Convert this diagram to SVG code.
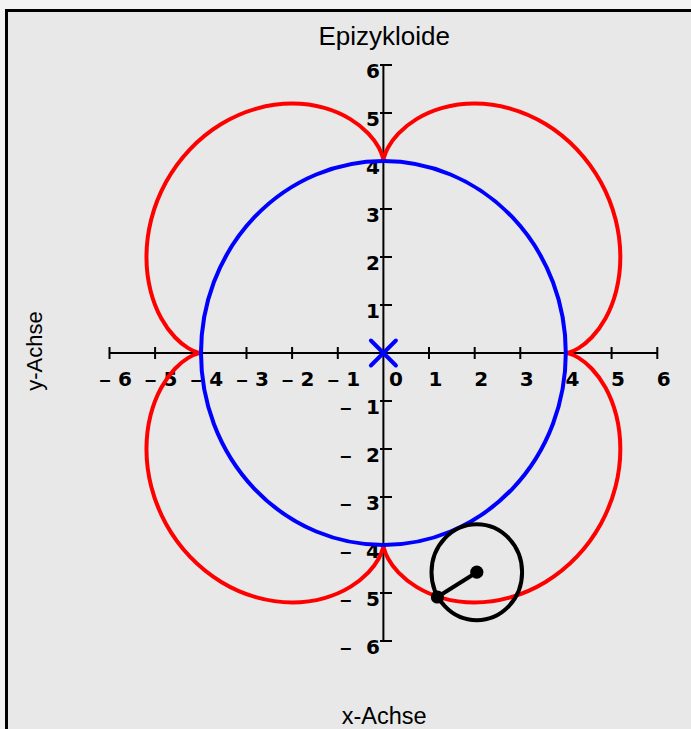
<svg xmlns="http://www.w3.org/2000/svg" xmlns:xlink="http://www.w3.org/1999/xlink" width="691" height="729" viewBox="0 0 691 729">
<style>
.axis{stroke:#000;stroke-width:2;fill:none}
.tl{font-family:"DejaVu Sans",sans-serif;font-weight:bold;font-size:20px;fill:#000}
.dash{font-family:"Liberation Sans",Arial,sans-serif;font-weight:bold;font-size:20px}
.ttl{font-family:"Liberation Sans",Arial,sans-serif;fill:#000}
.red{stroke:#ff0000;stroke-width:4;fill:none;stroke-linecap:round;stroke-linejoin:round}
.blue{stroke:#0000ff;stroke-width:4;fill:none}
.blk{stroke:#000;stroke-width:4;fill:none}
</style>
<defs>
<path id="lobe" d="M182.4,0 C182.4,0 183.58,0 185.8,-0.63 C188.03,-1.26 191.3,-2.52 195.23,-4.91 C199.16,-7.3 203.74,-10.81 208.43,-15.75 C213.12,-20.69 217.91,-27.04 222.17,-34.81 C226.43,-42.58 230.16,-51.78 232.79,-62.11 C235.42,-72.44 236.94,-83.91 236.94,-96 C236.94,-108.09 235.42,-120.8 232.19,-133.47 C228.96,-146.14 224.04,-158.78 217.51,-170.69 C210.98,-182.6 202.84,-193.78 193.46,-203.65 C184.08,-213.52 173.46,-222.09 162.15,-228.96 C150.84,-235.84 138.84,-241.01 126.8,-244.41 C114.76,-247.81 102.69,-249.42 91.2,-249.42 C79.71,-249.42 68.82,-247.82 59,-245.05 C49.19,-242.28 40.45,-238.35 33.07,-233.86 C25.69,-229.37 19.65,-224.34 14.96,-219.4 C10.27,-214.46 6.93,-209.64 4.66,-205.5 C2.39,-201.36 1.2,-197.92 0.6,-195.58 C0,-193.24 0,-192 0,-192"/>
</defs>
<rect x="0" y="0" width="691" height="729" fill="#f3f3f3"/>
<rect id="frame" x="6.5" y="10.5" width="720" height="740" fill="#e8e8e8" stroke="#000" stroke-width="3"/>
<text id="title" class="ttl" x="384.2" y="45" font-size="26" text-anchor="middle">Epizykloide</text>
<text id="xlabel" class="ttl" x="384.2" y="724.3" font-size="23.5" text-anchor="middle">x-Achse</text>
<text id="ylabel" class="ttl" font-size="22" text-anchor="middle" transform="translate(42,351) rotate(-90)">y-Achse</text>
<g id="axes">
<path class="axis" d="M109.5,353H657.3M383.4,65V641"/>
<path class="axis" d="M109.5,347V359M155.1,347V359M200.8,347V359M246.5,347V359M292.1,347V359M337.8,347V359M429,347V359M474.7,347V359M520.3,347V359M566,347V359M611.6,347V359M657.3,347V359"/>
<path class="axis" d="M380,65H392M380,113H392M380,161H392M380,209H392M380,257H392M380,305H392M380,401H392M380,449H392M380,497H392M380,545H392M380,593H392M380,641H392"/>
</g>
<g id="xticklabels" class="tl">
<text x="99.5" y="386"><tspan class="dash">–</tspan> <tspan x="117.9">6</tspan></text>
<text x="145.1" y="386"><tspan class="dash">–</tspan> <tspan x="163.5">5</tspan></text>
<text x="190.8" y="386"><tspan class="dash">–</tspan> <tspan x="209.2">4</tspan></text>
<text x="236.5" y="386"><tspan class="dash">–</tspan> <tspan x="254.9">3</tspan></text>
<text x="282.1" y="386"><tspan class="dash">–</tspan> <tspan x="300.5">2</tspan></text>
<text x="327.8" y="386"><tspan class="dash">–</tspan> <tspan x="346.2">1</tspan></text>
<text x="389" y="386">0</text>
<text x="428.5" y="386">1</text>
<text x="474.2" y="386">2</text>
<text x="519.8" y="386">3</text>
<text x="565.5" y="386">4</text>
<text x="611.1" y="386">5</text>
<text x="656.8" y="386">6</text>
</g>
<g id="yticklabels" class="tl" text-anchor="end">
<text x="380" y="77.5">6</text>
<text x="380" y="125.5">5</text>
<text x="380" y="173.5">4</text>
<text x="380" y="221.5">3</text>
<text x="380" y="269.5">2</text>
<text x="380" y="317.5">1</text>
<text x="358.3" y="413.5"><tspan class="dash">–</tspan> <tspan x="380">1</tspan></text>
<text x="358.3" y="461.5"><tspan class="dash">–</tspan> <tspan x="380">2</tspan></text>
<text x="358.3" y="509.5"><tspan class="dash">–</tspan> <tspan x="380">3</tspan></text>
<text x="358.3" y="557.5"><tspan class="dash">–</tspan> <tspan x="380">4</tspan></text>
<text x="358.3" y="605.5"><tspan class="dash">–</tspan> <tspan x="380">5</tspan></text>
<text x="358.3" y="653.5"><tspan class="dash">–</tspan> <tspan x="380">6</tspan></text>
</g>
<g id="epicycloid" class="red" transform="translate(383.4,353)">
<use xlink:href="#lobe" href="#lobe"/>
<use xlink:href="#lobe" href="#lobe" transform="scale(-1,1)"/>
<use xlink:href="#lobe" href="#lobe" transform="scale(1,-1)"/>
<use xlink:href="#lobe" href="#lobe" transform="scale(-1,-1)"/>
</g>
<g id="fixed-circle">
<ellipse class="blue" cx="383.4" cy="353" rx="182.4" ry="192"/>
<path class="blue" stroke-linecap="round" d="M370.9,340.5L395.9,365.5M370.9,365.5L395.9,340.5"/>
</g>
<g id="rolling-circle">
<ellipse class="blk" cx="476.8" cy="572.2" rx="45.3" ry="48"/>
<path class="blk" d="M476.8,572.2L437.4,597"/>
<circle cx="476.8" cy="572.2" r="6.6" fill="#000"/>
<circle cx="437.4" cy="597" r="6.6" fill="#000"/>
</g>
</svg>
